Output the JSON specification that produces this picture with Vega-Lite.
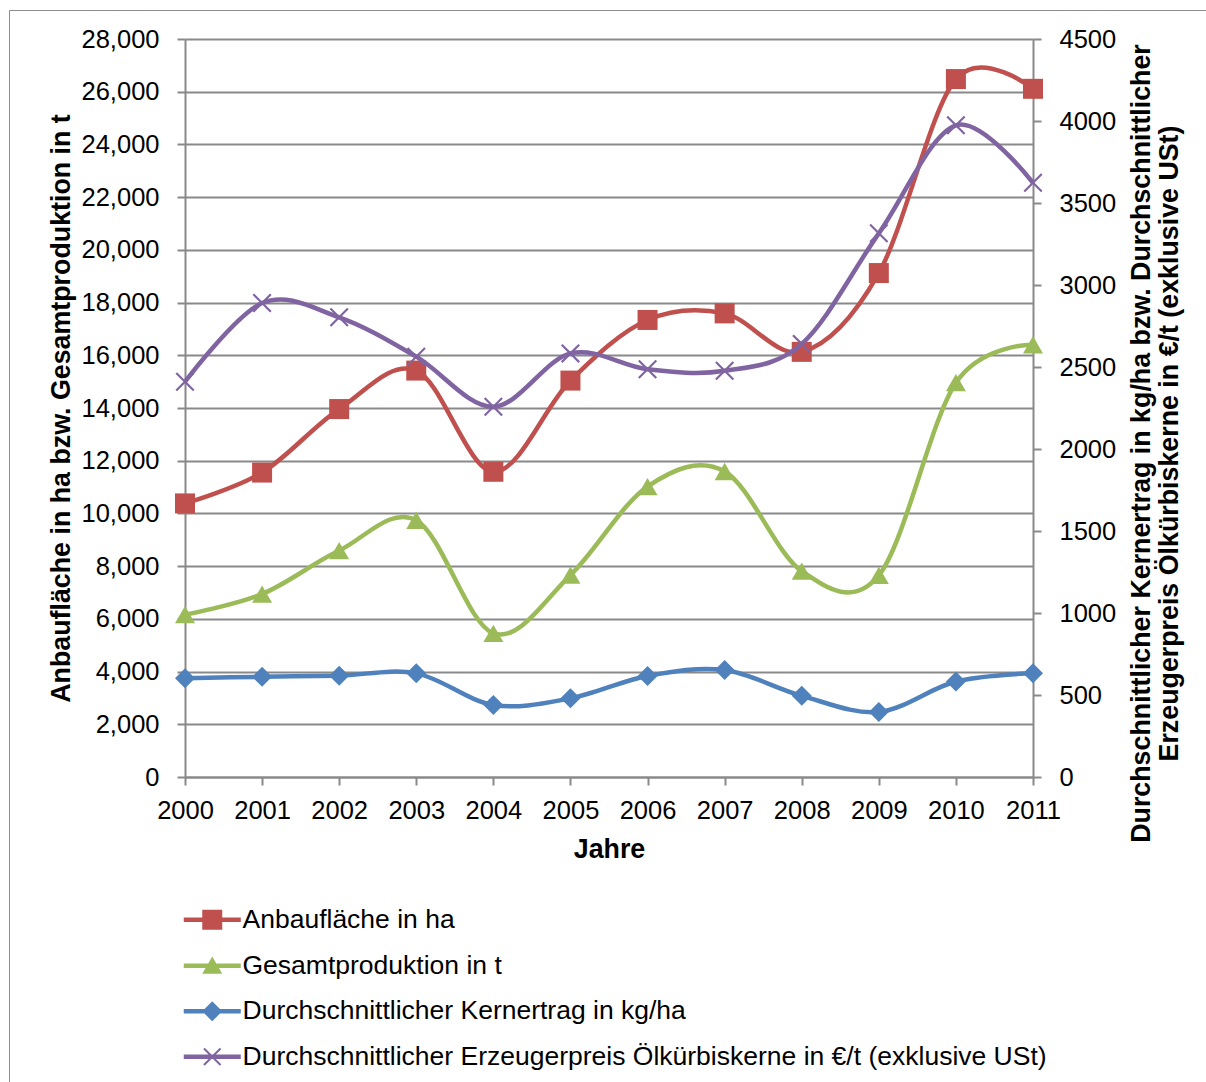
{
  "$schema": "https://vega.github.io/schema/vega-lite/v6.json",
  "width": 1197,
  "height": 1072,
  "autosize": {"type": "none"},
  "padding": {"left": 9, "top": 10, "right": 0, "bottom": 0},
  "background": "white",
  "data": {"values": [
    {"Jahr": 2000, "Reihe": "Anbaufläche in ha", "Wert": 10380},
    {"Jahr": 2001, "Reihe": "Anbaufläche in ha", "Wert": 11550},
    {"Jahr": 2002, "Reihe": "Anbaufläche in ha", "Wert": 13960},
    {"Jahr": 2003, "Reihe": "Anbaufläche in ha", "Wert": 15420},
    {"Jahr": 2004, "Reihe": "Anbaufläche in ha", "Wert": 11580},
    {"Jahr": 2005, "Reihe": "Anbaufläche in ha", "Wert": 15040},
    {"Jahr": 2006, "Reihe": "Anbaufläche in ha", "Wert": 17340},
    {"Jahr": 2007, "Reihe": "Anbaufläche in ha", "Wert": 17590},
    {"Jahr": 2008, "Reihe": "Anbaufläche in ha", "Wert": 16130},
    {"Jahr": 2009, "Reihe": "Anbaufläche in ha", "Wert": 19120},
    {"Jahr": 2010, "Reihe": "Anbaufläche in ha", "Wert": 26480},
    {"Jahr": 2011, "Reihe": "Anbaufläche in ha", "Wert": 26110},
    {"Jahr": 2000, "Reihe": "Gesamtproduktion in t", "Wert": 6160},
    {"Jahr": 2001, "Reihe": "Gesamtproduktion in t", "Wert": 6940},
    {"Jahr": 2002, "Reihe": "Gesamtproduktion in t", "Wert": 8590},
    {"Jahr": 2003, "Reihe": "Gesamtproduktion in t", "Wert": 9740},
    {"Jahr": 2004, "Reihe": "Gesamtproduktion in t", "Wert": 5450},
    {"Jahr": 2005, "Reihe": "Gesamtproduktion in t", "Wert": 7660},
    {"Jahr": 2006, "Reihe": "Gesamtproduktion in t", "Wert": 11020},
    {"Jahr": 2007, "Reihe": "Gesamtproduktion in t", "Wert": 11590},
    {"Jahr": 2008, "Reihe": "Gesamtproduktion in t", "Wert": 7810},
    {"Jahr": 2009, "Reihe": "Gesamtproduktion in t", "Wert": 7650},
    {"Jahr": 2010, "Reihe": "Gesamtproduktion in t", "Wert": 14960},
    {"Jahr": 2011, "Reihe": "Gesamtproduktion in t", "Wert": 16400},
    {"Jahr": 2000, "Reihe": "Durchschnittlicher Kernertrag in kg/ha", "Wert": 602},
    {"Jahr": 2001, "Reihe": "Durchschnittlicher Kernertrag in kg/ha", "Wert": 611},
    {"Jahr": 2002, "Reihe": "Durchschnittlicher Kernertrag in kg/ha", "Wert": 618},
    {"Jahr": 2003, "Reihe": "Durchschnittlicher Kernertrag in kg/ha", "Wert": 632},
    {"Jahr": 2004, "Reihe": "Durchschnittlicher Kernertrag in kg/ha", "Wert": 439},
    {"Jahr": 2005, "Reihe": "Durchschnittlicher Kernertrag in kg/ha", "Wert": 480},
    {"Jahr": 2006, "Reihe": "Durchschnittlicher Kernertrag in kg/ha", "Wert": 616},
    {"Jahr": 2007, "Reihe": "Durchschnittlicher Kernertrag in kg/ha", "Wert": 652},
    {"Jahr": 2008, "Reihe": "Durchschnittlicher Kernertrag in kg/ha", "Wert": 495},
    {"Jahr": 2009, "Reihe": "Durchschnittlicher Kernertrag in kg/ha", "Wert": 397},
    {"Jahr": 2010, "Reihe": "Durchschnittlicher Kernertrag in kg/ha", "Wert": 582},
    {"Jahr": 2011, "Reihe": "Durchschnittlicher Kernertrag in kg/ha", "Wert": 633},
    {"Jahr": 2000, "Reihe": "Durchschnittlicher Erzeugerpreis Ölkürbiskerne in €/t (exklusive USt)", "Wert": 2410},
    {"Jahr": 2001, "Reihe": "Durchschnittlicher Erzeugerpreis Ölkürbiskerne in €/t (exklusive USt)", "Wert": 2890},
    {"Jahr": 2002, "Reihe": "Durchschnittlicher Erzeugerpreis Ölkürbiskerne in €/t (exklusive USt)", "Wert": 2803},
    {"Jahr": 2003, "Reihe": "Durchschnittlicher Erzeugerpreis Ölkürbiskerne in €/t (exklusive USt)", "Wert": 2563},
    {"Jahr": 2004, "Reihe": "Durchschnittlicher Erzeugerpreis Ölkürbiskerne in €/t (exklusive USt)", "Wert": 2258},
    {"Jahr": 2005, "Reihe": "Durchschnittlicher Erzeugerpreis Ölkürbiskerne in €/t (exklusive USt)", "Wert": 2583},
    {"Jahr": 2006, "Reihe": "Durchschnittlicher Erzeugerpreis Ölkürbiskerne in €/t (exklusive USt)", "Wert": 2486},
    {"Jahr": 2007, "Reihe": "Durchschnittlicher Erzeugerpreis Ölkürbiskerne in €/t (exklusive USt)", "Wert": 2477},
    {"Jahr": 2008, "Reihe": "Durchschnittlicher Erzeugerpreis Ölkürbiskerne in €/t (exklusive USt)", "Wert": 2641},
    {"Jahr": 2009, "Reihe": "Durchschnittlicher Erzeugerpreis Ölkürbiskerne in €/t (exklusive USt)", "Wert": 3315},
    {"Jahr": 2010, "Reihe": "Durchschnittlicher Erzeugerpreis Ölkürbiskerne in €/t (exklusive USt)", "Wert": 3974},
    {"Jahr": 2011, "Reihe": "Durchschnittlicher Erzeugerpreis Ölkürbiskerne in €/t (exklusive USt)", "Wert": 3623}
  ]},
  "encoding": {
    "x": {
      "field": "Jahr", "type": "quantitative",
      "scale": {"domain": [2000, 2011], "range": [176, 1024], "nice": false, "zero": false},
      "axis": {
        "orient": "bottom", "offset": -305,
        "values": [2000, 2001, 2002, 2003, 2004, 2005, 2006, 2007, 2008, 2009, 2010, 2011],
        "format": "d", "grid": false, "tickSize": 8, "labelPadding": 13,
        "title": "Jahre", "titlePadding": 13
      }
    }
  },
  "layer": [
    {
      "encoding": {
        "y": {
          "field": "Wert", "type": "quantitative",
          "scale": {"domain": [0, 28000], "range": [767, 29], "nice": false, "zero": true},
          "axis": {
            "orient": "left", "offset": -176,
            "values": [0, 2000, 4000, 6000, 8000, 10000, 12000, 14000, 16000, 18000, 20000, 22000, 24000, 26000, 28000],
            "format": ",d", "grid": true, "tickSize": 8, "labelPadding": 18,
            "title": "Anbaufläche in ha bzw. Gesamtproduktion in t", "titlePadding": 6
          }
        }
      },
      "layer": [
        {
          "transform": [{"filter": {"field": "Reihe", "equal": "Anbaufläche in ha"}}],
          "mark": {"type": "line", "interpolate": "cardinal", "strokeWidth": 4.5, "color": "#C0504D"}
        },
        {
          "transform": [{"filter": {"field": "Reihe", "equal": "Anbaufläche in ha"}}],
          "mark": {"type": "point", "shape": "square", "filled": true, "opacity": 1, "size": 400},
          "encoding": {
            "color": {
              "field": "Reihe", "type": "nominal",
              "scale": {"domain": ["Anbaufläche in ha"], "range": ["#C0504D"]},
              "legend": {
                "title": null, "orient": "none", "legendX": 190, "legendY": 896.5, "padding": 0,
                "symbolSize": 100, "symbolType": "M-5.7,-0.45H5.7V0.45H-5.7ZM-2,-2H2V2H-2Z",
                "symbolStrokeWidth": 0, "symbolOpacity": 1,
                "labelOffset": 17, "labelFontSize": 26.5, "labelFont": "Liberation Sans",
                "labelColor": "#000000", "labelLimit": 0
              }
            }
          }
        },
        {
          "transform": [{"filter": {"field": "Reihe", "equal": "Gesamtproduktion in t"}}],
          "mark": {"type": "line", "interpolate": "cardinal", "strokeWidth": 4.5, "color": "#9BBB59"}
        },
        {
          "transform": [{"filter": {"field": "Reihe", "equal": "Gesamtproduktion in t"}}],
          "mark": {"type": "point", "shape": "triangle-up", "filled": true, "opacity": 1, "size": 400},
          "encoding": {
            "color": {
              "field": "Reihe", "type": "nominal",
              "scale": {"domain": ["Gesamtproduktion in t"], "range": ["#9BBB59"]},
              "legend": {
                "title": null, "orient": "none", "legendX": 190, "legendY": 942.5, "padding": 0,
                "symbolSize": 100, "symbolType": "M-5.7,-0.45H5.7V0.45H-5.7ZM-2,1.6L0,-1.85L2,1.6Z",
                "symbolStrokeWidth": 0, "symbolOpacity": 1,
                "labelOffset": 17, "labelFontSize": 26.5, "labelFont": "Liberation Sans",
                "labelColor": "#000000", "labelLimit": 0
              }
            }
          }
        }
      ],
      "resolve": {"scale": {"color": "independent"}}
    },
    {
      "encoding": {
        "y": {
          "field": "Wert", "type": "quantitative",
          "scale": {"domain": [0, 4500], "range": [767, 29], "nice": false, "zero": true},
          "axis": {
            "orient": "right", "offset": -173,
            "values": [0, 500, 1000, 1500, 2000, 2500, 3000, 3500, 4000, 4500],
            "format": "d", "grid": false, "tickSize": 8, "labelPadding": 18,
            "title": ["Durchschnittlicher Kernertrag in kg/ha bzw. Durchschnittlicher", "Erzeugerpreis Ölkürbiskerne in €/t (exklusive USt)"],
            "titleAngle": 270, "titleBaseline": "top", "titleY": 433, "titlePadding": -15, "titleLineHeight": 28
          }
        }
      },
      "layer": [
        {
          "transform": [{"filter": {"field": "Reihe", "equal": "Durchschnittlicher Kernertrag in kg/ha"}}],
          "mark": {"type": "line", "interpolate": "cardinal", "strokeWidth": 4.5, "color": "#4F81BD"}
        },
        {
          "transform": [{"filter": {"field": "Reihe", "equal": "Durchschnittlicher Kernertrag in kg/ha"}}],
          "mark": {"type": "point", "shape": "diamond", "filled": true, "opacity": 1, "size": 400},
          "encoding": {
            "color": {
              "field": "Reihe", "type": "nominal",
              "scale": {"domain": ["Durchschnittlicher Kernertrag in kg/ha"], "range": ["#4F81BD"]},
              "legend": {
                "title": null, "orient": "none", "legendX": 190, "legendY": 988, "padding": 0,
                "symbolSize": 100, "symbolType": "M-5.7,-0.45H5.7V0.45H-5.7ZM-2,0L0,-2L2,0L0,2Z",
                "symbolStrokeWidth": 0, "symbolOpacity": 1,
                "labelOffset": 17, "labelFontSize": 26.5, "labelFont": "Liberation Sans",
                "labelColor": "#000000", "labelLimit": 0
              }
            }
          }
        },
        {
          "transform": [{"filter": {"field": "Reihe", "equal": "Durchschnittlicher Erzeugerpreis Ölkürbiskerne in €/t (exklusive USt)"}}],
          "mark": {"type": "line", "interpolate": "cardinal", "strokeWidth": 4.5, "color": "#8064A2"}
        },
        {
          "transform": [{"filter": {"field": "Reihe", "equal": "Durchschnittlicher Erzeugerpreis Ölkürbiskerne in €/t (exklusive USt)"}}],
          "mark": {"type": "point", "shape": "M-1,-0.84L-0.84,-1L0,-0.16L0.84,-1L1,-0.84L0.16,0L1,0.84L0.84,1L0,0.16L-0.84,1L-1,0.84L-0.16,0Z", "filled": true, "opacity": 1, "size": 361},
          "encoding": {
            "color": {
              "field": "Reihe", "type": "nominal",
              "scale": {"domain": ["Durchschnittlicher Erzeugerpreis Ölkürbiskerne in €/t (exklusive USt)"], "range": ["#8064A2"]},
              "legend": {
                "title": null, "orient": "none", "legendX": 190, "legendY": 1033.5, "padding": 0,
                "symbolSize": 100, "symbolType": "M-5.7,-0.45H5.7V0.45H-5.7ZM-1.8,-1.52L-1.52,-1.8L0,-0.28L1.52,-1.8L1.8,-1.52L0.28,0L1.8,1.52L1.52,1.8L0,0.28L-1.52,1.8L-1.8,1.52L-0.28,0Z",
                "symbolStrokeWidth": 0, "symbolOpacity": 1,
                "labelOffset": 17, "labelFontSize": 26.5, "labelFont": "Liberation Sans",
                "labelColor": "#000000", "labelLimit": 0
              }
            }
          }
        }
      ],
      "resolve": {"scale": {"color": "independent"}}
    }
  ],
  "resolve": {"scale": {"y": "independent", "color": "independent"}, "axis": {"y": "independent"}},
  "config": {
    "font": "Liberation Sans",
    "view": {"stroke": "#8c8c8c", "strokeWidth": 1},
    "axis": {
      "labelFont": "Liberation Sans", "labelFontSize": 25.5, "labelColor": "#000000",
      "titleFont": "Liberation Sans", "titleFontSize": 26.8, "titleFontWeight": "bold", "titleColor": "#000000",
      "domainColor": "#898989", "domainWidth": 2, "tickColor": "#898989", "tickWidth": 2,
      "gridColor": "#898989", "gridWidth": 2, "labelFlush": false, "labelOverlap": false
    }
  }
}
